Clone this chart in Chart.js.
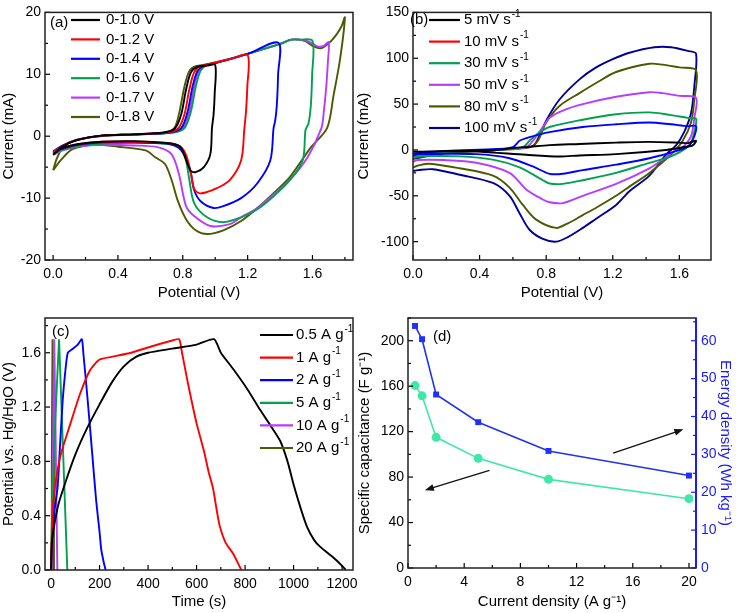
<!DOCTYPE html>
<html>
<head>
<meta charset="utf-8">
<script src="https://cdn.jsdelivr.net/npm/chart.js@4.4.1/dist/chart.umd.min.js"></script>
<style>
  body { margin: 0; background: #fff; }
  #wrap { position: relative; width: 736px; height: 613px; overflow: hidden; background: #fff; }
  canvas { position: absolute; }
</style>
</head>
<body>
<div id="wrap">
  <canvas id="chartA" width="368" height="302" style="left:0;top:0"></canvas>
  <canvas id="chartB" width="386" height="302" style="left:350px;top:0"></canvas>
  <canvas id="chartC" width="368" height="313" style="left:0;top:300px"></canvas>
  <canvas id="chartD" width="386" height="313" style="left:350px;top:300px"></canvas>
</div>
<script>
// ---------- (a) CV, different potential windows ----------
const windowLabels = ["0-1.0 V", "0-1.2 V", "0-1.4 V", "0-1.6 V", "0-1.7 V", "0-1.8 V"];
const windowColors = ["#000000", "#ff0000", "#0000ff", "#00a050", "#b83cff", "#4b5a00"];
const cv10V = [[0,-3],[0.05,-1.8],[0.15,-0.6],[0.3,0.1],[0.5,0.3],[0.68,0.6],[0.75,1.2],[0.79,3.5],[0.82,7.5],[0.85,10.3],[0.89,11.2],[0.95,11.4],[1.0,11.5],
  [0.997,7],[0.99,3.5],[0.98,1.3],[0.97,-2.9],[0.93,-5.0],[0.88,-5.8],[0.85,-5.6],[0.83,-4.5],[0.81,-3],[0.78,-1.6],[0.7,-1.1],[0.5,-0.8],[0.3,-0.9],[0.15,-1.3],[0.05,-2],[0,-3]];
const cv12V = [[0,-2.6],[0.05,-1.7],[0.15,-0.6],[0.3,0.1],[0.5,0.3],[0.7,0.6],[0.77,1.2],[0.81,3.5],[0.84,7.5],[0.87,10.3],[0.91,11.3],[1.0,11.9],[1.1,12.5],[1.2,13.1],
  [1.198,8],[1.19,4],[1.18,1.3],[1.16,-3.9],[1.09,-7.1],[1.01,-8.4],[0.94,-9.1],[0.9,-9.2],[0.87,-8.5],[0.85,-6],[0.82,-3],[0.78,-1.6],[0.7,-1.1],[0.5,-0.9],[0.3,-0.9],[0.15,-1.3],[0.06,-1.9],[0,-2.6]];
const cv14V = [[0,-2.5],[0.05,-1.6],[0.15,-0.6],[0.3,0.1],[0.5,0.3],[0.72,0.6],[0.79,1.3],[0.83,4],[0.86,8],[0.89,10.5],[0.93,11.4],[1.0,11.8],[1.2,13.3],[1.39,15.1],
  [1.388,10],[1.38,5],[1.37,2.5],[1.36,1.3],[1.34,-3.9],[1.26,-7.6],[1.16,-10],[1.05,-11.3],[0.99,-11.6],[0.91,-10.5],[0.87,-8.7],[0.85,-6],[0.82,-3.6],[0.78,-2],[0.7,-1.2],[0.5,-1],[0.3,-1],[0.15,-1.4],[0.06,-2],[0,-2.5]];
const cv16V = [[0,-2.8],[0.05,-1.7],[0.15,-0.6],[0.3,0.1],[0.5,0.3],[0.74,0.6],[0.81,1.3],[0.85,4],[0.88,8],[0.91,10.6],[0.95,11.5],[1.0,11.8],[1.2,13.3],[1.4,14.9],[1.47,15.6],[1.52,15.6],[1.6,15.4],
  [1.598,10],[1.59,5],[1.575,2],[1.557,1],[1.54,-3.9],[1.46,-7.1],[1.36,-9.7],[1.26,-11.8],[1.16,-13.1],[1.05,-13.9],[0.95,-13.1],[0.87,-10.8],[0.84,-7],[0.82,-4],[0.79,-2.2],[0.75,-1.4],[0.6,-1.1],[0.4,-1.1],[0.2,-1.4],[0.08,-2],[0,-2.8]];
const cv17V = [[0,-3],[0.05,-1.8],[0.15,-0.6],[0.3,0.1],[0.5,0.3],[0.73,0.6],[0.8,1.3],[0.84,4],[0.87,8],[0.9,10.6],[0.94,11.4],[1.0,11.8],[1.2,13.3],[1.4,14.9],[1.47,15.6],[1.55,15.5],[1.6,15.0],[1.63,14.5],[1.67,14.6],[1.7,15.2],
  [1.695,12],[1.685,8],[1.67,4],[1.655,1.3],[1.57,-3.4],[1.46,-7.1],[1.36,-9.4],[1.26,-11.6],[1.16,-13.1],[1.09,-14.2],[0.97,-14.5],[0.87,-12.9],[0.82,-11.3],[0.775,-6],[0.73,-2.9],[0.65,-1.8],[0.5,-1.5],[0.3,-1.4],[0.15,-1.7],[0.06,-2.3],[0,-3]];
const cv18V = [[0,-5.5],[0.02,-3.8],[0.05,-2.2],[0.1,-1.0],[0.2,-0.3],[0.35,0.1],[0.55,0.3],[0.7,0.6],[0.75,1.4],[0.78,4],[0.81,8],[0.84,10.5],[0.88,11.3],[0.95,11.6],[1.0,11.9],[1.2,13.3],[1.4,14.9],[1.47,15.6],[1.55,15.4],[1.6,14.6],[1.65,14.2],[1.7,15],[1.75,16.5],[1.78,17.8],[1.8,19.2],
  [1.77,12.4],[1.73,6.6],[1.69,1.3],[1.59,-1.8],[1.46,-6.6],[1.36,-9.2],[1.26,-11.6],[1.16,-13.7],[1.05,-15.2],[0.95,-15.8],[0.88,-15.2],[0.82,-13.4],[0.77,-10.5],[0.73,-7],[0.69,-4.5],[0.63,-3.4],[0.57,-2.3],[0.4,-1.7],[0.26,-1.4],[0.12,-2.1],[0.05,-3.8],[0,-5.5]];
const potTicksA = [0, 0.4, 0.8, 1.2, 1.6];
const curTicksA = [-20, -10, 0, 10, 20];

// ---------- (b) CV, different scan rates ----------
const rateLabels = ["5 mV s", "10 mV s", "30 mV s", "50 mV s", "80 mV s", "100 mV s"];
const rateLegendColors = ["#000000", "#ff0000", "#00a050", "#b83cff", "#4b5a00", "#000099"];
const rateLineColors = ["#000000", "#0000ff", "#00a050", "#b83cff", "#4b5a00", "#000099"];
const cv5 = [[0,-2],[0.3,-1],[0.5,0],[0.6,2],[0.7,3.5],[0.82,5.3],[1.0,6.5],[1.22,8],[1.42,8.8],[1.6,8],[1.65,7.5],[1.7,10],
  [1.68,5],[1.64,3.5],[1.52,0],[1.22,-4.6],[1.0,-6],[0.88,-7.1],[0.68,-5.3],[0.38,-1.8],[0.1,-1.5],[0,-2]];
const cv10 = [[0,-4],[0.2,-1],[0.5,1],[0.6,3],[0.64,10],[0.7,14],[0.82,19.5],[1.02,25],[1.22,28],[1.42,30],[1.55,28],[1.65,26],[1.7,26],
  [1.69,15],[1.66,5],[1.62,1],[1.42,-9],[1.22,-16],[1.02,-22],[0.9,-26],[0.82,-26],[0.72,-18],[0.58,-9],[0.38,-4.6],[0.03,-4.6],[0,-6]];
const cv30 = [[0,-5],[0.2,-2],[0.5,0],[0.66,3],[0.7,10],[0.75,18],[0.82,25],[1.02,33],[1.22,39],[1.42,41],[1.55,38],[1.65,35],[1.7,34],
  [1.69,20],[1.67,8],[1.64,2],[1.55,-7],[1.42,-14],[1.22,-25],[1.02,-33],[0.9,-37],[0.82,-36.6],[0.78,-33],[0.64,-19],[0.48,-10.6],[0.28,-7],[0.03,-7],[0,-9]];
const cv50 = [[0,-7],[0.2,-2],[0.5,0],[0.68,3],[0.72,10],[0.78,25],[0.82,35],[0.9,43],[1.02,50],[1.22,58],[1.42,63],[1.5,62],[1.6,59],[1.7,57],
  [1.69,35],[1.67,15],[1.62,3],[1.58,0],[1.52,-8],[1.42,-20],[1.22,-37],[1.02,-50],[0.9,-58],[0.82,-57],[0.78,-54],[0.68,-43],[0.58,-25],[0.38,-14],[0.18,-11],[0.03,-11],[0,-13]];
const cv80 = [[0,-9],[0.2,-3],[0.5,0],[0.7,3],[0.75,10],[0.8,30],[0.88,48],[1.0,62],[1.1,73],[1.22,85],[1.42,94],[1.5,93],[1.6,90],[1.7,87],
  [1.69,55],[1.67,30],[1.62,10],[1.55,-5],[1.42,-25],[1.3,-40],[1.22,-50],[1.1,-63],[1.02,-71],[0.93,-80],[0.86,-85],[0.74,-76],[0.66,-60],[0.58,-41],[0.48,-28],[0.28,-20],[0.1,-15],[0.03,-17],[0,-19]];
const cv100 = [[0,-10],[0.2,-3],[0.5,0],[0.65,2],[0.72,4],[0.75,12],[0.8,32],[0.88,55],[1.0,77],[1.1,90],[1.2,99],[1.3,106],[1.45,112],[1.55,112],[1.65,108],[1.7,105],
  [1.69,70],[1.67,40],[1.63,20],[1.58,5],[1.52,-5],[1.42,-28],[1.3,-45],[1.22,-60],[1.1,-75],[1.02,-85],[0.93,-95],[0.86,-100],[0.78,-97],[0.7,-87],[0.64,-69],[0.58,-50],[0.48,-36],[0.28,-27],[0.12,-21],[0.03,-22],[0,-23]];
const potTicksB = [0, 0.4, 0.8, 1.2, 1.6];
const curTicksB = [-100, -50, 0, 50, 100, 150];

// ---------- (c) charge-discharge ----------
const gcdLabels = ["0.5 A g", "1 A g", "2 A g", "5 A g", "10 A g", "20 A g"];
const gcdColors = ["#000000", "#ff0000", "#0000ff", "#00a050", "#b83cff", "#4b5a00"];
const gcd05 = [[0,0],[3,0.2],[10,0.3],[30,0.48],[60,0.65],[100,0.85],[150,1.05],[200,1.22],[250,1.38],[300,1.5],[350,1.57],[400,1.6],[500,1.63],[600,1.66],[672,1.7],
  [700,1.6],[751,1.48],[810,1.33],[862,1.18],[910,1.05],[945,0.95],[975,0.8],[1000,0.63],[1030,0.45],[1055,0.32],[1085,0.22],[1110,0.17],[1165,0.09],[1200,0.03],[1215,0]];
const gcd1 = [[0,0],[5,0.4],[15,0.6],[40,0.85],[80,1.08],[120,1.3],[160,1.47],[200,1.55],[250,1.57],[330,1.6],[420,1.65],[500,1.69],[528,1.7],
  [540,1.6],[565,1.37],[600,1.08],[630,0.88],[650,0.72],[668,0.6],[685,0.42],[696,0.32],[720,0.2],[751,0.12],[779,0.02],[785,0]];
const gcd2 = [[0,0],[5,0.25],[15,0.45],[27,0.61],[38,0.95],[48,1.25],[58,1.45],[69,1.6],[90,1.63],[110,1.66],[127,1.7],
  [133,1.6],[151,1.25],[170,0.85],[186,0.51],[200,0.28],[207,0.15],[218,0.05],[225,0]];
const gcd5 = [[0,0],[5,0.5],[15,1.0],[25,1.4],[33,1.7],[45,1.1],[55,0.6],[67,0]];
const gcd10 = [[2,0],[6,0.6],[10,1.2],[13,1.7],[18,1.1],[22,0.5],[26,0]];
const gcd20 = [[0,0],[3,0.8],[6,1.7],[9,0.9],[12,0]];
const gcdTension = [0.2, 0.2, 0.2, 0, 0, 0];
const timeTicks = [0, 200, 400, 600, 800, 1000, 1200];
const potTicksC = [0, 0.4, 0.8, 1.2, 1.6];

// ---------- (d) rate capability ----------
const currentDensity = [0.5, 1, 2, 5, 10, 20];
const specCap = [160.5, 151.5, 115, 96.5, 78, 61];
const energyDensity = [63.9, 60.4, 45.8, 38.5, 30.9, 24.4];
const densTicks = [0, 4, 8, 12, 16, 20];
const capTicks = [0, 40, 80, 120, 160, 200];
const energyTicks = [0, 10, 20, 30, 40, 50, 60];
const arrowsD = [{ from: [5.8, 86], to: [1.2, 68.5] }, { from: [14.6, 101], to: [19.6, 122] }];

const FONT = "'Liberation Sans', Arial, sans-serif";
Chart.defaults.font.family = FONT;
Chart.defaults.color = "#000";

const pts = arr => arr.map(p => ({ x: p[0], y: p[1] }));
const setTicks = list => s => { s.ticks = list.map(v => ({ value: v })); };

function drawText(ctx, x, y, main, sup, size) {
  ctx.font = size + "px " + FONT;
  ctx.textBaseline = "middle";
  ctx.textAlign = "left";
  ctx.fillText(main, x, y);
  if (sup) {
    const w = ctx.measureText(main).width;
    ctx.font = Math.round(size * 0.68) + "px " + FONT;
    ctx.fillText(sup, x + w + 1, y - 6);
  }
}

// frame, inward ticks, panel letter, legend, arrows
const deco = {
  id: "deco",
  afterDraw(chart, args, o) {
    const ctx = chart.ctx, a = chart.chartArea;
    ctx.save();
    Object.values(chart.scales).forEach(s => {
      const vals = s.ticks.map(t => t.value);
      const step = vals[1] - vals[0];
      const col = s.options.ticks.color || "#000";
      ctx.strokeStyle = col;
      ctx.lineWidth = 1.2;
      const marks = [];
      vals.forEach(v => marks.push([v, 5]));
      for (let v = vals[0] - step / 2; v <= s.max + 1e-9; v += step) {
        if (v >= s.min - 1e-9) marks.push([v, 3]);
      }
      marks.forEach(([v, len]) => {
        const p = s.getPixelForValue(v);
        ctx.beginPath();
        if (s.axis === "x") { ctx.moveTo(p, a.bottom); ctx.lineTo(p, a.bottom - len); }
        else if (s.position === "left") { ctx.moveTo(a.left, p); ctx.lineTo(a.left + len, p); }
        else { ctx.moveTo(a.right, p); ctx.lineTo(a.right - len, p); }
        ctx.stroke();
      });
    });
    ctx.strokeStyle = "#222";
    ctx.lineWidth = 1.5;
    ctx.strokeRect(a.left, a.top, a.width, a.height);
    if (o.rightColor) {
      ctx.strokeStyle = o.rightColor;
      ctx.lineWidth = 2;
      ctx.beginPath(); ctx.moveTo(a.right, a.top); ctx.lineTo(a.right, a.bottom); ctx.stroke();
    }
    ctx.fillStyle = "#000";
    drawText(ctx, o.labelX, o.labelY, o.label, null, 15);
    if (o.legend) {
      const L = o.legend;
      L.texts.forEach((t, i) => {
        const y = L.y + i * L.dy;
        ctx.strokeStyle = L.colors[i];
        ctx.lineWidth = 2.2;
        ctx.beginPath(); ctx.moveTo(L.x0, y); ctx.lineTo(L.x1, y); ctx.stroke();
        ctx.fillStyle = "#000";
        drawText(ctx, L.tx, y, t, L.sup, 15);
      });
    }
    if (o.arrows) {
      const xs = chart.scales.x, ys = chart.scales.y;
      ctx.strokeStyle = "#111"; ctx.fillStyle = "#111"; ctx.lineWidth = 1.3;
      o.arrows.forEach(ar => {
        const x1 = xs.getPixelForValue(ar.from[0]), y1 = ys.getPixelForValue(ar.from[1]);
        const x2 = xs.getPixelForValue(ar.to[0]), y2 = ys.getPixelForValue(ar.to[1]);
        const ang = Math.atan2(y2 - y1, x2 - x1);
        ctx.beginPath(); ctx.moveTo(x1, y1); ctx.lineTo(x2 - 6 * Math.cos(ang), y2 - 6 * Math.sin(ang)); ctx.stroke();
        ctx.beginPath();
        ctx.moveTo(x2, y2);
        ctx.lineTo(x2 - 9 * Math.cos(ang) + 3.5 * Math.sin(ang), y2 - 9 * Math.sin(ang) - 3.5 * Math.cos(ang));
        ctx.lineTo(x2 - 9 * Math.cos(ang) - 3.5 * Math.sin(ang), y2 - 9 * Math.sin(ang) + 3.5 * Math.cos(ang));
        ctx.closePath(); ctx.fill();
      });
    }
    ctx.restore();
  }
};
Chart.register(deco);

function axis(cfg) {
  const isX = cfg.isX;
  return {
    type: "linear",
    position: cfg.position || (isX ? "bottom" : "left"),
    min: cfg.min, max: cfg.max,
    afterBuildTicks: setTicks(cfg.ticks),
    afterFit: s => { if (isX) s.height = cfg.size; else s.width = cfg.size; },
    grid: { display: false, drawTicks: false },
    border: { display: false },
    ticks: {
      autoSkip: false, maxRotation: 0, padding: cfg.pad || 4,
      font: { size: 14 }, color: cfg.color || "#000",
      callback: cfg.fmt || (v => String(v))
    },
    title: {
      display: true, text: cfg.title, color: cfg.color || "#000",
      font: { size: 15 }, padding: cfg.titlePad || { top: 0, bottom: 0 }
    }
  };
}

function lineSets(curves, colors, labels, tens) {
  return curves.map((c, i) => ({
    label: labels[i], data: pts(c), borderColor: colors[i], borderWidth: 1.9,
    showLine: true, pointRadius: 0, tension: tens ? tens[i] : 0.3, fill: false
  }));
}

const baseOpts = {
  responsive: false, animation: false,
  plugins: { legend: { display: false }, tooltip: { enabled: false } }
};

// (a)
new Chart(document.getElementById("chartA"), {
  type: "scatter",
  data: { datasets: lineSets([cv10V, cv12V, cv14V, cv16V, cv17V, cv18V], windowColors, windowLabels) },
  options: {
    ...baseOpts,
    layout: { padding: { left: 0, right: 15, top: 7, bottom: 0 } },
    scales: {
      x: axis({ isX: true, min: -0.05, max: 1.85, ticks: potTicksA, size: 42, pad: 6, title: "Potential (V)", fmt: v => v.toFixed(1) }),
      y: axis({ min: -20, max: 20, ticks: curTicksA, size: 45, pad: 4, title: "Current (mA)" })
    },
    plugins: {
      ...baseOpts.plugins,
      deco: { label: "(a)", labelX: 50, labelY: 23,
        legend: { texts: windowLabels, colors: windowColors, x0: 71, x1: 100, tx: 106, y: 20, dy: 19.4 } }
    }
  }
});

// (b)
new Chart(document.getElementById("chartB"), {
  type: "scatter",
  data: { datasets: lineSets([cv5, cv10, cv30, cv50, cv80, cv100], rateLineColors, rateLabels) },
  options: {
    ...baseOpts,
    layout: { padding: { left: 0, right: 25, top: 7, bottom: 0 } },
    scales: {
      x: axis({ isX: true, min: 0, max: 1.79, ticks: potTicksB, size: 42, pad: 6, title: "Potential (V)", fmt: v => v.toFixed(1) }),
      y: axis({ min: -120, max: 150, ticks: curTicksB, size: 63, pad: 4, title: "Current (mA)", titlePad: { top: 5, bottom: 0 } })
    },
    plugins: {
      ...baseOpts.plugins,
      deco: { label: "(b)", labelX: 60, labelY: 20,
        legend: { texts: rateLabels, sup: "-1", colors: rateLegendColors, x0: 79, x1: 110, tx: 114, y: 20, dy: 21.6 } }
    }
  }
});

// (c)
new Chart(document.getElementById("chartC"), {
  type: "scatter",
  data: { datasets: lineSets([gcd05, gcd1, gcd2, gcd5, gcd10, gcd20], gcdColors, gcdLabels, gcdTension) },
  options: {
    ...baseOpts,
    layout: { padding: { left: 0, right: 15, top: 18, bottom: 0 } },
    scales: {
      x: axis({ isX: true, min: -25, max: 1245, ticks: timeTicks, size: 43, pad: 6, title: "Time (s)", titlePad: { top: 0, bottom: 2 } }),
      y: axis({ min: 0, max: 1.856, ticks: potTicksC, size: 45, pad: 4, title: "Potential vs. Hg/HgO (V)", fmt: v => v.toFixed(1) })
    },
    plugins: {
      ...baseOpts.plugins,
      deco: { label: "(c)", labelX: 52, labelY: 32,
        legend: { texts: gcdLabels, sup: "-1", colors: gcdColors, x0: 260, x1: 293, tx: 296, y: 35, dy: 22.6 } }
    }
  }
});

// (d)
new Chart(document.getElementById("chartD"), {
  type: "scatter",
  data: {
    datasets: [
      { label: "Specific capacitance", data: currentDensity.map((x, i) => ({ x, y: specCap[i] })), yAxisID: "y",
        showLine: true, borderColor: "#40e8a8", backgroundColor: "#40e8a8", borderWidth: 1.6,
        pointStyle: "circle", pointRadius: 4.5, pointBorderWidth: 0 },
      { label: "Energy density", data: currentDensity.map((x, i) => ({ x, y: energyDensity[i] })), yAxisID: "y2",
        showLine: true, borderColor: "#2233ee", backgroundColor: "#1f2fff", borderWidth: 1.6,
        pointStyle: "rect", pointRadius: 4.2, pointBorderWidth: 0 }
    ]
  },
  options: {
    ...baseOpts,
    layout: { padding: { left: 0, right: 0, top: 18, bottom: 0 } },
    scales: {
      x: axis({ isX: true, min: 0, max: 20.5, ticks: densTicks, size: 45, pad: 6, title: "Current density (A g⁻¹)", titlePad: { top: 0, bottom: 2 } }),
      y: axis({ min: 0, max: 220, ticks: capTicks, size: 58, pad: 4, title: "Specific capacitance (F g⁻¹)", titlePad: { top: 6, bottom: 0 } }),
      y2: axis({ position: "right", min: 0, max: 66, ticks: energyTicks, size: 40, pad: 5, color: "#1a1aff", title: "Energy density (Wh kg⁻¹)", titlePad: { top: 2, bottom: 0 } })
    },
    plugins: {
      ...baseOpts.plugins,
      deco: { label: "(d)", labelX: 83, labelY: 37, rightColor: "#1a1aff", arrows: arrowsD }
    }
  }
});
</script>
</body>
</html>
